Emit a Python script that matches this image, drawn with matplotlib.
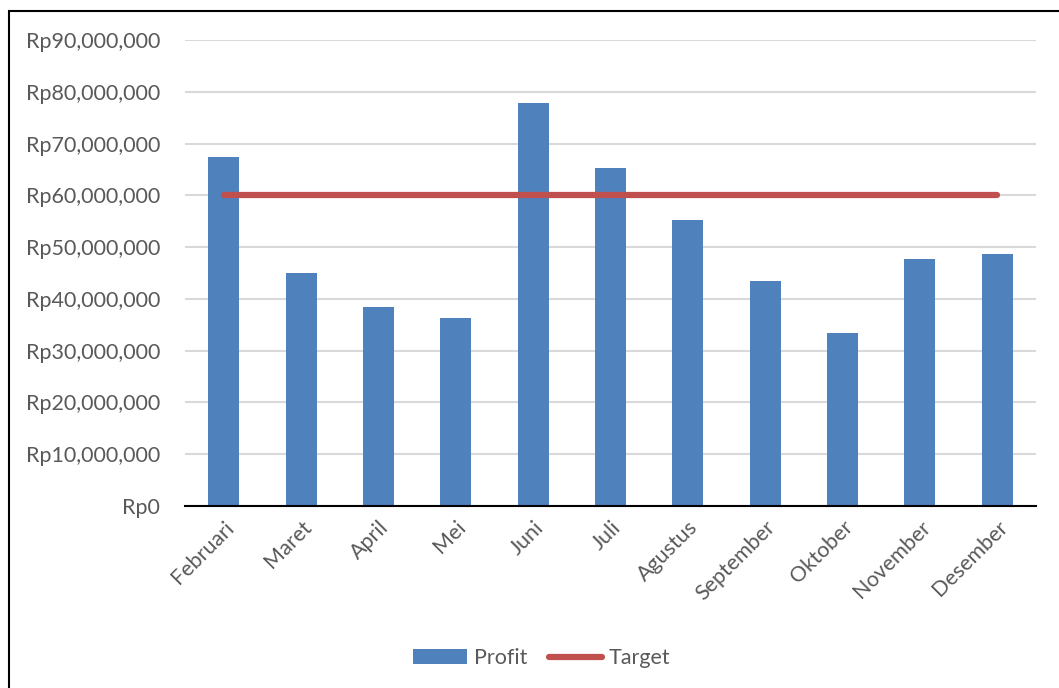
import matplotlib.pyplot as plt
from matplotlib.patches import Rectangle
from matplotlib.ticker import FuncFormatter

# Monthly profit vs target
bulan = ['Februari', 'Maret', 'April', 'Mei', 'Juni', 'Juli', 'Agustus',
         'September', 'Oktober', 'November', 'Desember']
profit = [67400000, 45000000, 38400000, 36300000, 77800000, 65300000,
          55200000, 43500000, 33400000, 47700000, 48700000]
target = [60000000] * len(bulan)

plt.rcParams['font.family'] = ['Lato', 'DejaVu Sans']

fig = plt.figure(figsize=(10.59, 6.88), dpi=100)
W, H = 1059, 688
ax = fig.add_axes([185 / W, 1 - 506 / H, (1036 - 185) / W, (506 - 40) / H])

x = range(len(bulan))
bars = ax.bar(x, profit, width=0.4, color='#4F81BD', label='Profit', zorder=2)
line, = ax.plot(x, target, color='#C0504D', linewidth=4.5, solid_capstyle='round',
                label='Target', zorder=3)

ax.set_xlim(-0.5, len(bulan) - 0.5)
ax.set_ylim(0, 90000000)
ax.set_yticks(range(0, 90000001, 10000000))
ax.yaxis.set_major_formatter(FuncFormatter(lambda v, p: 'Rp{:,.0f}'.format(v)))
ax.grid(axis='y', color='#D9D9D9', linewidth=1.5, zorder=0)

for s in ['top', 'right', 'left']:
    ax.spines[s].set_visible(False)
ax.spines['bottom'].set_color('#000000')
ax.spines['bottom'].set_linewidth(1.5)

ax.tick_params(axis='both', length=0, labelsize=15.5, colors='#595959')
ax.tick_params(axis='y', pad=18)
ax.tick_params(axis='x', pad=8)
ax.set_xticks(list(x))
ax.set_xticklabels(bulan, rotation=45, ha='right', rotation_mode='anchor')

leg = fig.legend([bars, line], ['Profit', 'Target'], loc='center',
                 bbox_to_anchor=(542 / W, 1 - 658 / H), ncol=2,
                 frameon=False, fontsize=15.5, handlelength=2.5,
                 handleheight=0.65, columnspacing=1.0, handletextpad=0.3)
for t in leg.get_texts():
    t.set_color('#595959')

# outer chart border
fig.patches.append(Rectangle((9 / W, -0.1), 1.2, 1 - 11 / H + 0.1,
                             transform=fig.transFigure, fill=False,
                             edgecolor='black', linewidth=1.5))

fig.savefig('out.png', dpi=100)
